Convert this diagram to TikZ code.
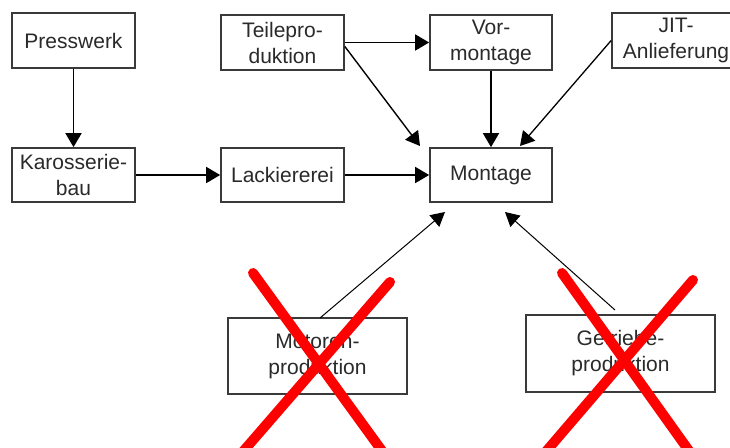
\documentclass[tikz,border=0pt]{standalone}
\usepackage{fontspec}
\setmainfont{Liberation Sans}
\usetikzlibrary{arrows.meta}
\definecolor{boxline}{HTML}{3A3A3A}
\definecolor{txt}{HTML}{2A2A2A}
\definecolor{xred}{HTML}{FF0000}
\tikzset{
  box/.style={draw=boxline, line width=1.7pt, fill=white, align=center, inner sep=0pt,
    text=txt, font=\fontsize{21}{26}\selectfont},
  conn/.style={draw=black, line width=1.7pt, -{Triangle[length=14pt,width=16pt]}},
  thinconn/.style={draw=black, line width=1pt, -{Triangle[length=14pt,width=15pt]}},
  cross/.style={draw=xred, line width=10pt, line cap=round}
}
\begin{document}
\begin{tikzpicture}[x=1pt,y=-1pt]
\useasboundingbox (0,0) rectangle (730,447);
\fill[white] (0,0) rectangle (730,447);
\node[box, minimum width=123pt, minimum height=55pt] (press) at (73.5,40.5) {Presswerk};
\node[box, minimum width=123pt, minimum height=54pt] (karo) at (73.5,175) {Karosserie-\\bau};
\node[box, minimum width=123pt, minimum height=55pt] (teile) at (282.5,42.5) {Teilepro-\\duktion};
\node[box, minimum width=123pt, minimum height=54pt] (lack) at (282.5,175) {Lackiererei};
\node[box, minimum width=122pt, minimum height=55pt] (vor) at (491,42.5) {Vor-\\montage};
\node[box, minimum width=128pt, minimum height=55pt] (jit) at (676,40.5) {JIT-\\Anlieferung};
\node[box, minimum width=122pt, minimum height=54pt] (mont) at (491,175) {Montage};
\node[box, line width=1.4pt, minimum width=179pt, minimum height=76pt] (mot) at (317.5,356) {Motoren-\\produktion};
\node[box, line width=1.4pt, minimum width=189pt, minimum height=77pt] (getr) at (620.5,353.5) {Getriebe-\\produktion};

\coordinate (tmT) at (420,146);
\coordinate (jmT) at (520,146);
\coordinate (motS) at (320,318);
\coordinate (mmT) at (445,212);
\coordinate (getS) at (615,310);
\coordinate (gmT) at (505,212);

\draw[conn] (press) -- (karo);
\draw[conn] (karo) -- (lack);
\draw[conn] (lack) -- (mont);
\draw[conn] (teile) -- (vor);
\draw[conn, line width=1.4pt] ([yshift=-4pt]teile.east) -- (tmT);
\draw[conn] (vor) -- (mont);
\draw[conn, line width=1.3pt] (jit.west) -- (jmT);
\draw[thinconn] (motS) -- (mmT);
\draw[thinconn] (getS) -- (gmT);

\draw[cross] (253,273) -- (385,455);
\draw[cross] (390,282) -- (240,455);
\draw[cross] (562,273) -- (692,455);
\draw[cross] (693,280) -- (543,455);
\end{tikzpicture}
\end{document}
